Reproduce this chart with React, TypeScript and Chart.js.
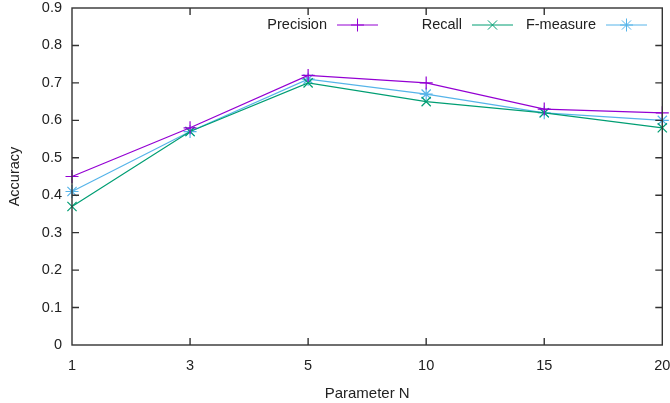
import React, { useEffect, useRef } from "react";
import { Chart, registerables } from "chart.js";

Chart.register(...registerables);

const categories = ["1", "3", "5", "10", "15", "20"];
const precision = [0.45, 0.58, 0.72, 0.70, 0.63, 0.62];
const recall = [0.37, 0.57, 0.70, 0.65, 0.62, 0.58];
const fmeasure = [0.41, 0.57, 0.71, 0.67, 0.62, 0.60];
const seriesNames = ["Precision", "Recall", "F-measure"];
const seriesColors = ["#9400D3", "#009E73", "#56B4E9"];
const pointStyles = ["cross", "crossRot", "star"];

const FONT = "'Liberation Sans', Arial, sans-serif";
const FRAME = "#333333";

function drawMarker(ctx: CanvasRenderingContext2D, style: string, x: number, y: number, r: number) {
  ctx.beginPath();
  if (style === "cross" || style === "star") {
    ctx.moveTo(x - r, y); ctx.lineTo(x + r, y);
    ctx.moveTo(x, y - r); ctx.lineTo(x, y + r);
  }
  if (style === "crossRot" || style === "star") {
    const d = r * 0.7071;
    ctx.moveTo(x - d, y - d); ctx.lineTo(x + d, y + d);
    ctx.moveTo(x - d, y + d); ctx.lineTo(x + d, y - d);
  }
  ctx.stroke();
}

const framePlugin = {
  id: "gnuFrame",
  afterDatasetsDraw(chart: any) {
    const { ctx, chartArea: a, scales } = chart;
    ctx.save();
    ctx.strokeStyle = FRAME;
    ctx.lineWidth = 1.4;
    ctx.strokeRect(a.left, a.top, a.right - a.left, a.bottom - a.top);
    const tl = 7;
    ctx.beginPath();
    const ys = scales.y;
    ys.ticks.forEach((t: any, i: number) => {
      const py = ys.getPixelForTick(i);
      if (Math.abs(py - a.top) < 1 || Math.abs(py - a.bottom) < 1) return;
      ctx.moveTo(a.left, py); ctx.lineTo(a.left + tl, py);
      ctx.moveTo(a.right, py); ctx.lineTo(a.right - tl, py);
    });
    const xs = scales.x;
    xs.ticks.forEach((t: any, i: number) => {
      const px = xs.getPixelForTick(i);
      if (Math.abs(px - a.left) < 1 || Math.abs(px - a.right) < 1) return;
      ctx.moveTo(px, a.bottom); ctx.lineTo(px, a.bottom - tl);
      ctx.moveTo(px, a.top); ctx.lineTo(px, a.top + tl);
    });
    ctx.stroke();

    // legend (gnuplot style key)
    const textRight = [327, 462, 596];
    const y = 25;
    ctx.font = `14.5px ${FONT}`;
    ctx.textAlign = "right";
    ctx.textBaseline = "middle";
    for (let i = 0; i < 3; i++) {
      ctx.fillStyle = "#222222";
      ctx.fillText(seriesNames[i], textRight[i], y);
      const x0 = textRight[i] + 10;
      const x1 = x0 + 41;
      ctx.strokeStyle = seriesColors[i];
      ctx.lineWidth = 1;
      ctx.beginPath();
      ctx.moveTo(x0, y); ctx.lineTo(x1, y);
      ctx.stroke();
      drawMarker(ctx, pointStyles[i], (x0 + x1) / 2, y, 6.5);
    }
    ctx.restore();
  },
};

export default function App() {
  const ref = useRef<HTMLCanvasElement>(null);
  useEffect(() => {
    document.body.style.margin = "0";
    const mk = (label: string, data: number[], i: number) => ({
      label,
      data,
      borderColor: seriesColors[i],
      backgroundColor: seriesColors[i],
      borderWidth: 1.2,
      pointStyle: pointStyles[i] as any,
      pointRadius: 6.5,
      pointBorderWidth: 1.2,
      pointHoverRadius: 6.5,
      tension: 0,
      fill: false,
    });
    const chart = new Chart(ref.current!, {
      type: "line",
      data: {
        labels: categories,
        datasets: [mk(seriesNames[0], precision, 0), mk(seriesNames[1], recall, 1), mk(seriesNames[2], fmeasure, 2)],
      },
      options: {
        animation: false,
        responsive: false,
        layout: { padding: { top: 8, right: 6, left: 0, bottom: 0 } },
        plugins: { legend: { display: false }, tooltip: { enabled: false } },
        scales: {
          x: {
            type: "category",
            offset: false,
            grid: { display: false, drawTicks: false },
            border: { display: false },
            ticks: { color: "#222", font: { family: FONT, size: 14.5 }, padding: 12, maxRotation: 0, autoSkip: false },
            title: { display: true, text: "Parameter N", color: "#222", font: { family: FONT, size: 15 }, padding: { top: 12, bottom: 0 } },
            afterFit(s: any) { s.height = 58; s.paddingLeft = 0; s.paddingRight = 0; },
          },
          y: {
            min: 0,
            max: 0.9,
            grid: { display: false, drawTicks: false },
            border: { display: false },
            ticks: {
              stepSize: 0.1,
              color: "#222",
              font: { family: FONT, size: 14.5 },
              padding: 10,
              callback: (v: any) => String(Math.round(Number(v) * 10) / 10),
            },
            title: { display: true, text: "Accuracy", color: "#222", font: { family: FONT, size: 14.5 }, padding: { top: 6, bottom: 0 } },
            afterFit(s: any) { s.width = 72; s.paddingTop = 0; s.paddingBottom = 0; },
          },
        },
      },
      plugins: [framePlugin],
    });
    return () => chart.destroy();
  }, []);
  return (
    <div style={{ width: 670, height: 403 }}>
      <canvas ref={ref} width={670} height={403} style={{ display: "block" }} />
    </div>
  );
}
